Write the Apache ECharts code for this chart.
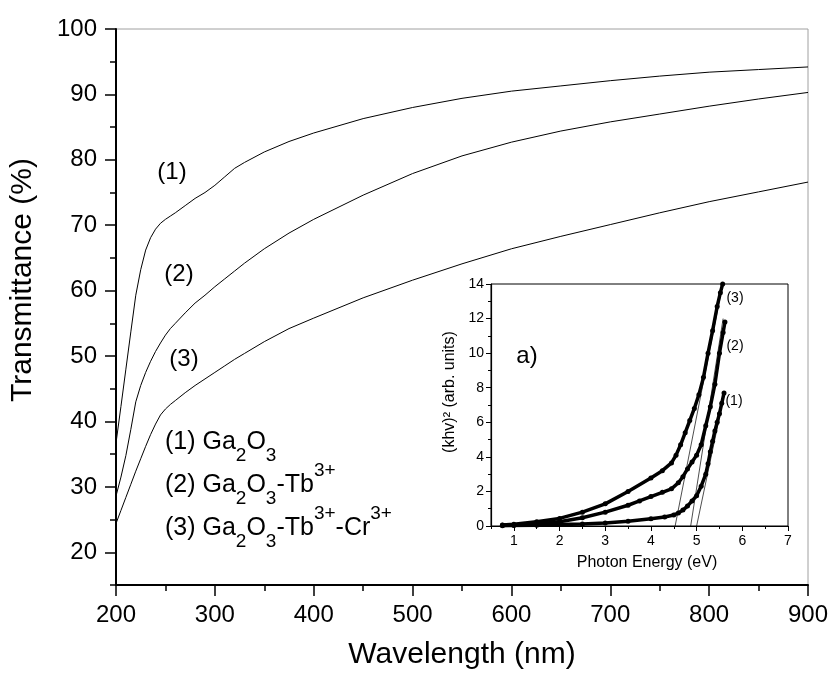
<!DOCTYPE html>
<html>
<head>
<meta charset="utf-8">
<script src="https://cdn.jsdelivr.net/npm/echarts/dist/echarts.min.js"></script>
<style>html,body{margin:0;padding:0;background:#fff;}#c{width:832px;height:680px;}</style>
</head>
<body>
<div id="c"></div>
<script>
// ---------- Main chart data (wavelength in nm, transmittance in %) ----------
const wavelength = [200,205,210,215,220,225,230,235,240,245,250,255,260,270,280,290,300,310,320,330,350,375,400,450,500,550,600,650,700,750,800,850,900];
const trans1 = [36.7,42.3,48.0,53.7,59.3,63.2,66.2,68.1,69.4,70.3,70.9,71.4,71.9,73.0,74.1,75.0,76.1,77.4,78.7,79.6,81.2,82.8,84.1,86.3,88.0,89.4,90.5,91.3,92.1,92.8,93.4,93.8,94.2];
const trans2 = [28.6,31.5,34.8,38.8,43.0,45.5,47.5,49.2,50.7,52.0,53.2,54.2,55.0,56.6,58.1,59.3,60.6,61.8,63.0,64.2,66.4,68.8,70.9,74.6,77.9,80.6,82.7,84.4,85.8,87.0,88.2,89.3,90.3];
const trans3 = [24.4,26.4,28.4,30.4,32.4,34.3,36.2,38.0,39.6,41.0,41.9,42.6,43.2,44.4,45.5,46.5,47.5,48.5,49.5,50.4,52.2,54.2,55.8,58.9,61.6,64.1,66.4,68.3,70.1,71.9,73.6,75.1,76.6];
const mainXTicks = [200,300,400,500,600,700,800,900];
const mainYTicks = [20,30,40,50,60,70,80,90,100];

// ---------- Inset data (photon energy in eV, (khv)^2 in arb. units) ----------
const energy1 = [0.75,1.0,1.5,2.0,2.5,3.0,3.5,4.0,4.3,4.5,4.6,4.7,4.8,4.9,5.0,5.1,5.2,5.25,5.3,5.35,5.4,5.45,5.5,5.55,5.6];
const khv1    = [0.02,0.03,0.05,0.08,0.12,0.18,0.28,0.42,0.52,0.64,0.75,0.92,1.15,1.45,1.75,2.3,3.0,3.6,4.3,4.9,5.5,6.0,6.5,7.1,7.7];
const energy2 = [0.75,1.0,1.5,2.0,2.5,3.0,3.5,3.75,4.0,4.25,4.45,4.6,4.7,4.8,4.9,5.0,5.1,5.2,5.3,5.4,5.5,5.58,5.62];
const khv2    = [0.04,0.06,0.12,0.25,0.48,0.8,1.2,1.45,1.7,1.95,2.15,2.5,2.85,3.3,3.7,4.1,4.7,5.8,6.9,8.2,10.0,11.2,11.8];
const energy3 = [0.75,1.0,1.5,2.0,2.5,3.0,3.5,4.0,4.25,4.45,4.55,4.65,4.75,4.85,4.95,5.05,5.15,5.25,5.35,5.45,5.52,5.57];
const khv3    = [0.06,0.1,0.25,0.44,0.8,1.28,2.0,2.78,3.2,3.65,4.1,4.7,5.4,6.1,6.8,7.6,8.6,10.0,11.3,12.7,13.5,14.0];
const tangentE1 = [5.0,5.62], tangentV1 = [0,7.8];
const tangentE2 = [4.87,5.58], tangentV2 = [0,12.0];
const tangentE3 = [4.53,5.57], tangentV3 = [0,14.0];
const insetXTicks = [1,2,3,4,5,6,7];
const insetYTicks = [0,2,4,6,8,10,12,14];

const FONT = 'Liberation Sans, Arial, sans-serif';
const zip = (xs, ys) => xs.map((x, i) => [x, ys[i]]);

const chart = echarts.init(document.getElementById('c'), null, {renderer: 'canvas'});

function mainSeries(y) {
  return {type:'line', xAxisIndex:0, yAxisIndex:0, data: zip(wavelength, y), showSymbol:false, symbol:'none',
          lineStyle:{color:'#000', width:1}, silent:true, animation:false};
}
function insetSeries(x, y) {
  return {type:'line', xAxisIndex:2, yAxisIndex:2, data: zip(x, y), symbol:'circle', symbolSize:5, showSymbol:true,
          itemStyle:{color:'#000'}, lineStyle:{color:'#000', width:3.5}, silent:true, animation:false, z:3};
}
function tangentSeries(x, y) {
  return {type:'line', xAxisIndex:2, yAxisIndex:2, data: zip(x, y), symbol:'none',
          lineStyle:{color:'#000', width:0.7}, silent:true, animation:false, z:4};
}

const rich = {
  m: {fontSize:25, lineHeight:25, fontFamily:FONT, color:'#000'},
  sub: {fontSize:19, lineHeight:19, padding:[28,0,0,0], fontFamily:FONT, color:'#000'},
  sup: {fontSize:19, lineHeight:19, padding:[0,0,28,0], fontFamily:FONT, color:'#000'}
};
const legendLines = [
  '{m|(1) Ga}{sub|2}{m|O}{sub|3}',
  '{m|(2) Ga}{sub|2}{m|O}{sub|3}{m|-Tb}{sup|3+}',
  '{m|(3) Ga}{sub|2}{m|O}{sub|3}{m|-Tb}{sup|3+}{m|-Cr}{sup|3+}'
];
const legendY = [442, 485, 528];

function txt(x, y, text, size, extra) {
  return Object.assign({type:'text', x:x, y:y, z:100, silent:true,
    style:{text:text, fontSize:size, fontFamily:FONT, fill:'#000', align:'center', verticalAlign:'middle'}}, extra || {});
}

const option = {
  backgroundColor:'#fff',
  animation:false,
  grid:[
    {left:116, top:29, right:24, bottom:95, show:true, borderColor:'#a0a0a0', borderWidth:1, backgroundColor:'transparent', containLabel:false},
    {left:491, top:284, right:44, bottom:154, show:true, borderColor:'#000', borderWidth:1, backgroundColor:'#fff', containLabel:false, z:2}
  ],
  xAxis:[
    {gridIndex:0, type:'value', min:200, max:900, interval:50,
     axisLine:{show:true, onZero:false, lineStyle:{color:'#000', width:2}},
     axisTick:{show:true, length:6, lineStyle:{color:'#000', width:1.5}},
     axisLabel:{customValues:mainXTicks, fontSize:24, color:'#000', fontFamily:FONT, margin:18},
     splitLine:{show:false},
     name:'Wavelength (nm)', nameLocation:'middle', nameGap:55,
     nameTextStyle:{fontSize:30, color:'#000', fontFamily:FONT}},
    {gridIndex:0, type:'value', position:'bottom', min:200, max:900, interval:50,
     axisLine:{show:false, onZero:false},
     axisTick:{show:true, customValues:mainXTicks, length:11, lineStyle:{color:'#000', width:1.5}},
     axisLabel:{show:false}, splitLine:{show:false}},
    {gridIndex:1, type:'value', min:0.5, max:7, interval:0.5,
     axisLine:{show:true, onZero:false, lineStyle:{color:'#000', width:1.2}},
     axisTick:{show:true, length:3, lineStyle:{color:'#000', width:1}},
     axisLabel:{customValues:insetXTicks, fontSize:14, color:'#000', fontFamily:FONT, margin:8},
     splitLine:{show:false}, z:5},
    {gridIndex:1, type:'value', position:'bottom', min:0.5, max:7, interval:0.5,
     axisLine:{show:false, onZero:false},
     axisTick:{show:true, customValues:insetXTicks, length:5, lineStyle:{color:'#000', width:1}},
     axisLabel:{show:false}, splitLine:{show:false}, z:5}
  ],
  yAxis:[
    {gridIndex:0, type:'value', min:15, max:100, interval:5,
     axisLine:{show:true, onZero:false, lineStyle:{color:'#000', width:2}},
     axisTick:{show:true, length:6, lineStyle:{color:'#000', width:1.5}},
     axisLabel:{customValues:mainYTicks, fontSize:24, color:'#000', fontFamily:FONT, margin:19},
     splitLine:{show:false}},
    {gridIndex:0, type:'value', position:'left', min:15, max:100, interval:5,
     axisLine:{show:false, onZero:false},
     axisTick:{show:true, customValues:mainYTicks, length:11, lineStyle:{color:'#000', width:1.5}},
     axisLabel:{show:false}, splitLine:{show:false}},
    {gridIndex:1, type:'value', min:0, max:14, interval:1,
     axisLine:{show:true, onZero:false, lineStyle:{color:'#000', width:1.2}},
     axisTick:{show:true, length:3, lineStyle:{color:'#000', width:1}},
     axisLabel:{customValues:insetYTicks, fontSize:14, color:'#000', fontFamily:FONT, margin:7},
     splitLine:{show:false}, z:5},
    {gridIndex:1, type:'value', position:'left', min:0, max:14, interval:1,
     axisLine:{show:false, onZero:false},
     axisTick:{show:true, customValues:insetYTicks, length:5, lineStyle:{color:'#000', width:1}},
     axisLabel:{show:false}, splitLine:{show:false}, z:5}
  ],
  series:[
    mainSeries(trans1), mainSeries(trans2), mainSeries(trans3),
    insetSeries(energy1, khv1), insetSeries(energy2, khv2), insetSeries(energy3, khv3),
    tangentSeries(tangentE1, tangentV1), tangentSeries(tangentE2, tangentV2), tangentSeries(tangentE3, tangentV3)
  ],
  graphic:[
    txt(23, 280, 'Transmittance (%)', 30, {rotation: Math.PI / 2}),
    txt(172, 172, '(1)', 24),
    txt(179, 274, '(2)', 24),
    txt(184, 359, '(3)', 24),
    ...legendLines.map((t, i) => ({type:'text', x:165, y:legendY[i], z:100, silent:true,
       style:{text:t, rich:rich, align:'left', verticalAlign:'middle', fontFamily:FONT, fill:'#000'}})),
    txt(527, 356, 'a)', 24),
    txt(735, 298, '(3)', 14),
    txt(735, 346, '(2)', 14),
    txt(734, 401, '(1)', 14),
    txt(647, 563, 'Photon Energy (eV)', 16),
    txt(450, 392, '(khv)² (arb. units)', 16, {rotation: Math.PI / 2})
  ]
};
chart.setOption(option);
</script>
</body>
</html>
